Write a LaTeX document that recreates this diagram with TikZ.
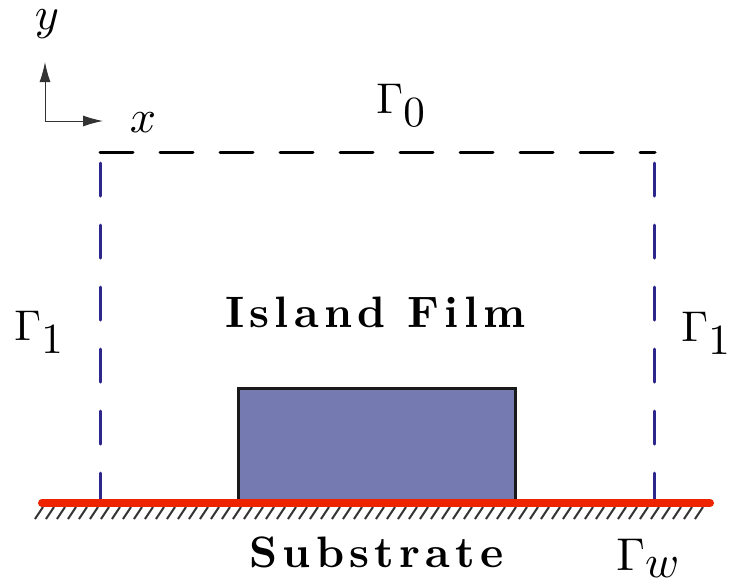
\documentclass[tikz,border=0pt]{standalone}
\usepackage{fontspec}
\newfontfamily\titlerm[LetterSpace=12]{lmroman10-bold.otf}
% keep the 10pt design of cmr and cmmi at every size
\DeclareFontShape{OT1}{cmr}{m}{n}{<->cmr10}{}
\DeclareFontShape{OML}{cmm}{m}{it}{<->cmmi10}{}
\usetikzlibrary{arrows.meta}
\definecolor{filmblue}{RGB}{117,123,176}
\definecolor{wallblue}{RGB}{45,38,140}
\definecolor{subred}{RGB}{238,36,0}

\begin{document}
\begin{tikzpicture}[
        x=0.5pt, y=-0.5pt,
        lbl/.style   ={inner sep=0pt, font=\fontsize{21.5}{26}\selectfont},
        biglbl/.style={inner sep=0pt, font=\fontsize{23}{28}\selectfont},
        title/.style ={inner sep=0pt, anchor=base,
                       font=\fontsize{22}{27}\selectfont\titlerm},
        bdry/.style  ={line width=1.5pt, line cap=round},
        ax/.style    ={-{Latex[length=10pt,width=5.5pt]}, line width=0.5pt, black!80},
        hatch/.style ={line width=1pt, black!80}
    ]
      \useasboundingbox (0,0) rectangle (734,585);

      % ===== AXES =====
      \coordinate (o)  at (45,121);
      \coordinate (ey) at (45,62);
      \coordinate (ex) at (103,121);
      \draw[ax] (o) -- (ey);
      \draw[ax] (o) -- (ex);
      \node[biglbl, anchor=base] (ylab) at (47,29)  {$y$};
      \node[biglbl, anchor=base] (xlab) at (143,132) {$x$};

      % ===== DOMAIN =====
      \coordinate (tl) at (100,152);
      \coordinate (tr) at (655,152);
      \coordinate (lt) at (100,163);
      \coordinate (lb) at (100,503);
      \coordinate (rt) at (654,163);
      \coordinate (rb) at (654,503);
      \draw[bdry, black, dash pattern=on 16.5pt off 13.5pt] (tl) -- (tr);
      \draw[bdry, wallblue, dash pattern=on 16.5pt off 14.5pt] (lt) -- (lb);
      \draw[bdry, wallblue, dash pattern=on 16.5pt off 14.5pt] (rt) -- (rb);

      % island
      \draw[line width=1.5pt, fill=filmblue, draw=black!90] (238,503) rectangle (515,388);

      % substrate
      \coordinate (sl) at (42,503);
      \coordinate (sr) at (710,503);
      \foreach \x in {43,54,...,703}
        \draw[hatch] (\x,507) -- ++(-8,12);
      \draw[subred, line width=4pt, line cap=round] (sl) -- (sr);

      % ===== LABELS =====
      \node[lbl, anchor=base west] (g0)  at (376,113) {$\Gamma_{\textstyle 0}$};
      \node[lbl, anchor=base west] (g1l) at (14,340)  {$\Gamma_{\textstyle 1}$};
      \node[lbl, anchor=base west] (g1r) at (681,341) {$\Gamma_{\textstyle 1}$};
      \node[biglbl, anchor=base west] (gw) at (616,570) {$\Gamma_{\textstyle w}$};
      \node[title] (film) at (375.5,327) {Island Film};
      \node[title] (sub)  at (376.5,567) {Substrate};
    \end{tikzpicture}
\end{document}
